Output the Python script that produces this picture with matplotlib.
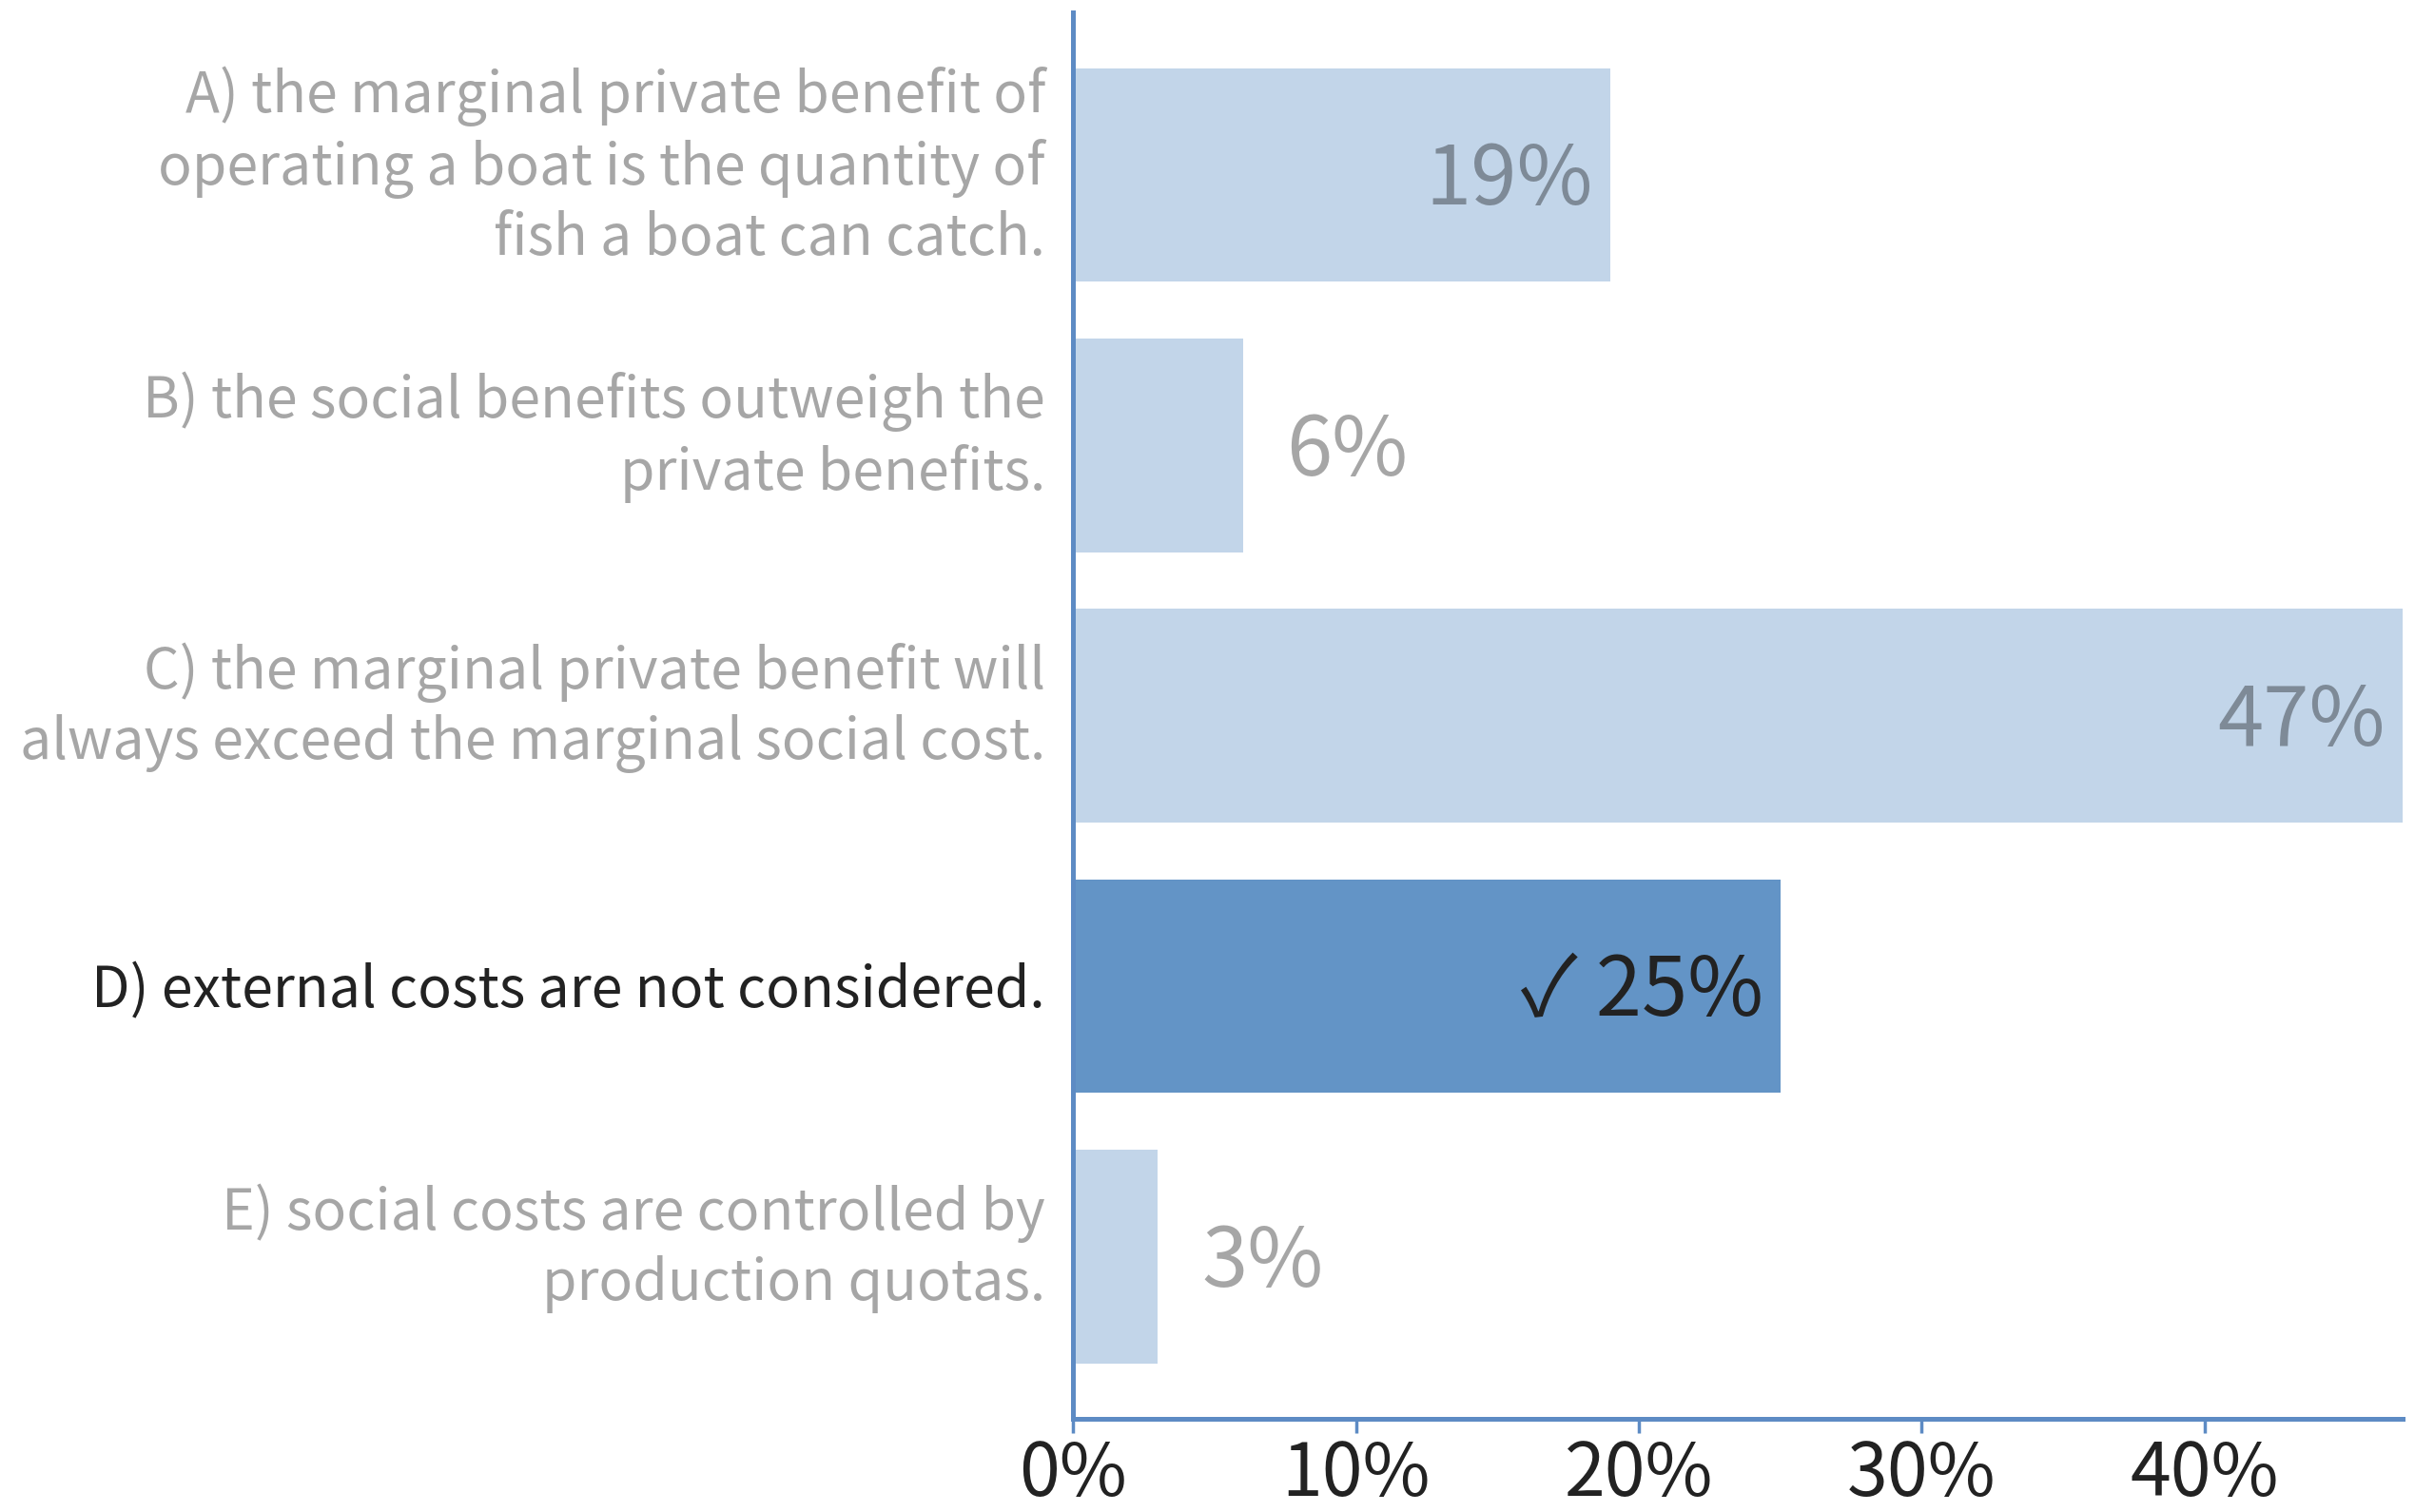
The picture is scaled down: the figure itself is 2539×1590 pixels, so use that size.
# resultados de la pregunta: barras horizontales con porcentajes
import matplotlib
matplotlib.use('Agg')
import matplotlib.pyplot as plt

plt.rcParams['font.family'] = ['Noto Sans CJK SC', 'DejaVu Sans']

# Datos
opciones = [
    'A) the marginal private benefit of\noperating a boat is the quantity of\nfish a boat can catch.',
    'B) the social benefits outweigh the\nprivate benefits.',
    'C) the marginal private benefit will\nalways exceed the marginal social cost.',
    'D) external costs are not considered.',
    'E) social costs are controlled by\nproduction quotas.',
]
porcentajes = [19, 6, 47, 25, 3]
etiquetas = ['19%', '6%', '47%', '\u2713 25%', '3%']
correcta = 3
dentro = [True, False, True, True, False]
ticks_x = [0, 10, 20, 30, 40]
ticks_txt = ['0%', '10%', '20%', '30%', '40%']

# Colores
azul_eje = '#5d8bc4'
azul_claro = '#c2d5e9'
azul_oscuro = '#6394c6'
gris = (0, 0, 0, 0.35)
oscuro = '#222222'

fig = plt.figure(figsize=(25.39, 15.90), dpi=100)
ax = fig.add_axes([0.4443, 0.0616, 0.5506, 0.930])

y = list(range(len(opciones)))
colores_barras = [azul_oscuro if i == correcta else azul_claro for i in y]
ax.barh(y, porcentajes, height=0.79, color=colores_barras, zorder=1)

ax.set_xlim(0, 47)
ax.set_ylim(4.6, -0.6)

# Etiquetas de valor
for i, (v, txt) in enumerate(zip(porcentajes, etiquetas)):
    color = oscuro if i == correcta else gris
    if dentro[i]:
        ax.annotate(txt, (v, i), xytext=(-13, -5), textcoords='offset points',
                    ha='right', va='center', fontsize=62.5, color=color)
    else:
        ax.annotate(txt, (v, i), xytext=(33, -5), textcoords='offset points',
                    ha='left', va='center', fontsize=62.5, color=color)

# Textos de cada opcion a la izquierda del eje
ax.set_yticks([])
for i, txt in enumerate(opciones):
    dy = 6 if '\n' in txt else -4
    ax.annotate(txt, (0, i), xytext=(-21, dy), textcoords='offset points',
                ha='right', va='center', multialignment='right',
                fontsize=42.5, linespacing=1.27,
                color=oscuro if i == correcta else gris)

ax.set_xticks(ticks_x)
ax.set_xticklabels(ticks_txt, fontsize=55.5, color='#222222')
ax.tick_params(axis='x', length=11, width=2.5, color=azul_eje, pad=3, direction='out')

for lado in ['top', 'right']:
    ax.spines[lado].set_visible(False)
for lado in ['left', 'bottom']:
    ax.spines[lado].set_color(azul_eje)
    ax.spines[lado].set_linewidth(3.6)
    ax.spines[lado].set_zorder(3)

fig.savefig('out.png', dpi=100)
